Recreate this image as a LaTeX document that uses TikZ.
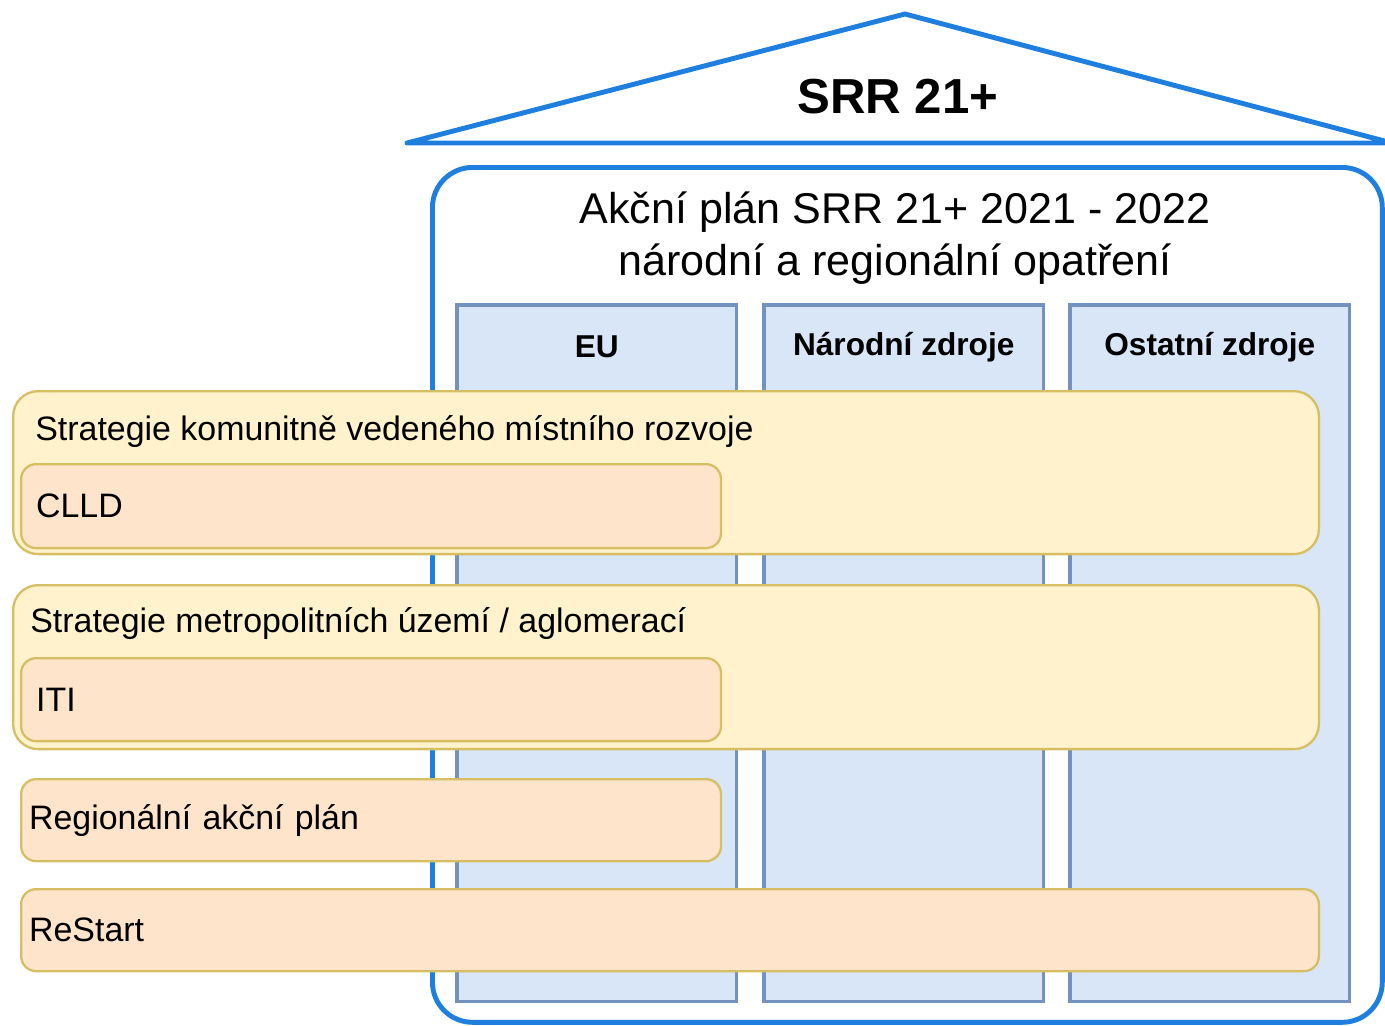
\documentclass[tikz,border=0pt]{standalone}
\usepackage{fontspec}
\setmainfont{Liberation Sans}
\usepackage{tikz}
\usetikzlibrary{positioning}

\definecolor{houseblue}{HTML}{1E7FDF}
\definecolor{colfill}{HTML}{D9E6F8}
\definecolor{colline}{HTML}{7392BE}
\definecolor{stratfill}{HTML}{FFF2CC}
\definecolor{stratline}{HTML}{D6BE62}
\definecolor{toolfill}{HTML}{FFE4CC}

\begin{document}
\begin{tikzpicture}[
	x=0.02cm, y=-0.02cm,
	roof/.style={
		draw=houseblue,
		line width=2.8pt,
		line join=round
		},
	house/.style={
		draw=houseblue,
		line width=2.8pt,
		rounded corners=0.8cm,
		anchor=north west,
		minimum width=19cm,
		minimum height=17.1cm
		},
	col/.style={
		draw=colline,
		fill=colfill,
		line width=2pt,
		anchor=north west,
		minimum width=5.6cm,
		minimum height=13.94cm
		},
	hdr/.style={
		font=\fontsize{18}{22}\selectfont\bfseries
		},
	strat/.style={
		draw=stratline,
		fill=stratfill,
		line width=1.3pt,
		rounded corners=0.5cm,
		anchor=north west,
		minimum width=26.12cm
		},
	tool/.style={
		draw=stratline,
		fill=toolfill,
		line width=1.3pt,
		rounded corners=0.3cm,
		anchor=north west,
		align=left,
		inner xsep=0.3cm,
		minimum width=14cm,
		text width=13.4cm
		},
	txt/.style={
		font=\fontsize{19.3}{23}\selectfont,
		inner sep=0pt
		}
]

\useasboundingbox (0,0) rectangle (1385,1025);

% Roof
\coordinate (RoofL) at (407,143);
\coordinate (RoofTop) at (905,14);
\coordinate (RoofR) at (1392,143);
\draw [roof] (RoofL) -- (RoofTop) -- (RoofR) -- cycle;
\node [font=\fontsize{28}{32}\selectfont\bfseries] (SRR) at (898,97) {SRR 21+};

% House
\node [house] (House) at (430,165) {};
\node [align=center, font=\fontsize{24.5}{29.5}\selectfont] (Plan) at (895,238)
	{Akční plán SRR 21+ 2021 - 2022\\národní a regionální opatření};

% Columns
\node [col] (EU) at (455,303) {};
\node [col] (Narodni) at (762,303) {};
\node [col] (Ostatni) at (1068,303) {};
\node [hdr] (EUh) at ([yshift=-0.88cm]EU.north) {EU};
\node [hdr] (Narodnih) at ([yshift=-0.88cm]Narodni.north) {Národní zdroje};
\node [hdr] (Ostatnih) at ([yshift=-0.88cm]Ostatni.north) {Ostatní zdroje};

% Strategies
\node [strat, minimum height=3.26cm] (SCLLD) at (12,390) {};
\node [txt, anchor=west] (SCLLDt) at ([xshift=0.46cm, yshift=-0.84cm]SCLLD.north west)
	{Strategie komunitně vedeného místního rozvoje};
\node [tool, minimum height=1.68cm, txt, inner xsep=0.3cm] (CLLD) at (20,463) {CLLD};

\node [strat, minimum height=3.28cm] (SITI) at (12,584) {};
\node [txt, anchor=west] (SITIt) at ([xshift=0.36cm, yshift=-0.8cm]SITI.north west)
	{Strategie metropolitních území / aglomerací};
\node [tool, minimum height=1.66cm, txt, inner xsep=0.3cm] (ITI) at (20,657) {ITI};

% Other tools
\node [tool, minimum height=1.64cm, txt, inner xsep=0.16cm, text width=13.68cm] (RAP) at (20,778) {Regionální akční plán};
\node [tool, minimum height=1.64cm, txt, inner xsep=0.16cm, minimum width=25.96cm, text width=25.64cm] (ReStart) at (20,888) {ReStart};
\end{tikzpicture}
\end{document}
